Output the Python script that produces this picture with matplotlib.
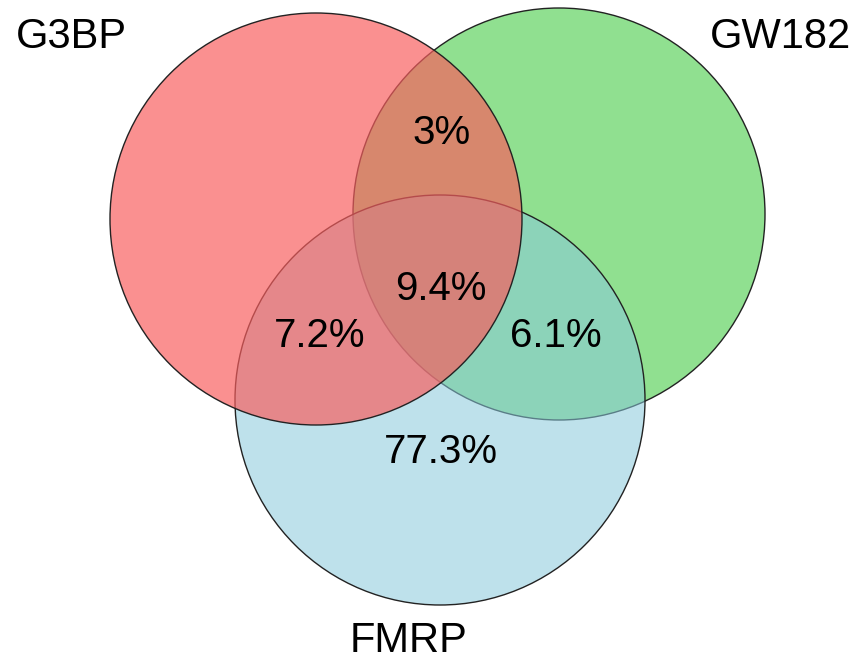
import matplotlib.pyplot as plt
from matplotlib.colors import to_rgba
from matplotlib.patches import Circle

plt.rcParams['font.family'] = ['Liberation Sans', 'DejaVu Sans']

# sets (drawn in this order: green, blue, red on top)
set_names = ["GW182", "FMRP", "G3BP"]
set_colors = ["#90E090", "#89CADC", "#F85E5E"]
set_alpha = [1.0, 0.55, 0.685]
centers_x = [559, 440, 316]
centers_y = [214, 400, 219]
radii = [206, 205, 206]

# set labels
label_x = [781, 409, 71]
label_y = [48, 652, 48]

# region percentages
region_labels = ["3%", "9.4%", "7.2%", "6.1%", "77.3%"]
region_x = [442, 441, 320, 556, 441]
region_y = [144, 300, 347, 347, 463]

fig = plt.figure(figsize=(8.68, 6.64), dpi=100)
ax = fig.add_axes([0, 0, 1, 1])
ax.set_xlim(0, 868)
ax.set_ylim(664, 0)
ax.set_aspect("equal")
ax.axis("off")

for cx, cy, r, c, a in zip(centers_x, centers_y, radii, set_colors, set_alpha):
    ax.add_patch(Circle((cx, cy), r, facecolor=to_rgba(c, a),
                        edgecolor="#222222", linewidth=1.0))

for name, x, y in zip(set_names, label_x, label_y):
    ax.text(x, y, name, fontsize=30, ha="center", va="baseline", color="black")

for lab, x, y in zip(region_labels, region_x, region_y):
    ax.text(x, y, lab, fontsize=29, ha="center", va="baseline", color="black")

fig.savefig("out.png", dpi=100)
